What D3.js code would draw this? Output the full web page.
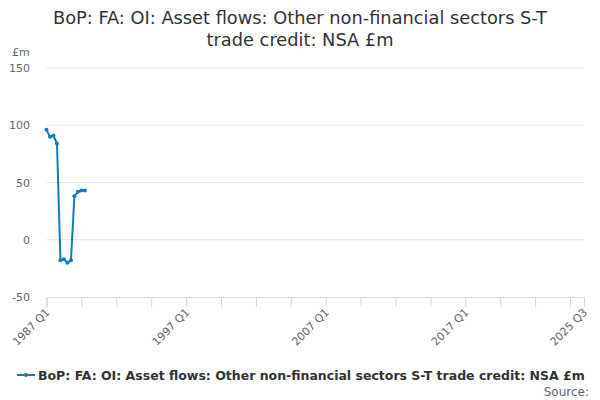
<!DOCTYPE html>
<html><head><meta charset="utf-8">
<script src="https://cdn.jsdelivr.net/npm/d3@7"></script>
<style>body{margin:0;background:#fff;font-family:"DejaVu Sans",sans-serif;}</style>
</head><body><svg id="c" width="600" height="400"></svg>
<script>
const quarters = ["1987 Q1","1987 Q2","1987 Q3","1987 Q4","1988 Q1","1988 Q2","1988 Q3","1988 Q4","1989 Q1","1989 Q2","1989 Q3","1989 Q4"];
const values = [96,90,91,84,-18,-17,-20,-18,38,42,43,43];
const yTicks = [-50,0,50,100,150];
const xLabels = ["1987 Q1","1997 Q1","2007 Q1","2017 Q1","2025 Q3"];
const seriesName = "BoP: FA: OI: Asset flows: Other non-financial sectors S-T trade credit: NSA £m";

function qIndex(s){const [y,q]=s.split(" Q");return (+y-1987)*4+(+q-1);}
const lastIdx = qIndex("2025 Q3");

const svg = d3.select("#c");
const L=46.5, R=584, T=68, B=297;
const x = d3.scaleLinear().domain([0,lastIdx]).range([L,R]);
const y = d3.scaleLinear().domain([-50,150]).range([B,T]);

svg.append("text").attr("x",300).attr("y",24).attr("text-anchor","middle")
  .attr("font-size",17.8).attr("fill","#333").text("BoP: FA: OI: Asset flows: Other non-financial sectors S-T");
svg.append("text").attr("x",300).attr("y",46).attr("text-anchor","middle")
  .attr("font-size",17.8).attr("fill","#333").text("trade credit: NSA £m");

svg.append("text").attr("x",12).attr("y",56).attr("font-size",11).attr("fill","#666").text("£m");

// gridlines
svg.append("g").selectAll("line").data(yTicks.filter(d=>d!==-50)).join("line")
  .attr("x1",L).attr("x2",R).attr("y1",d=>y(d)).attr("y2",d=>y(d))
  .attr("stroke","#e6e6e6").attr("stroke-width",1);
svg.append("g").selectAll("text").data(yTicks).join("text")
  .attr("x",30).attr("y",d=>y(d)+4).attr("text-anchor","end")
  .attr("font-size",11).attr("fill","#666").text(d=>d);

// x axis
const minor = d3.range(0,lastIdx,10).concat([lastIdx]);
const xAxis = d3.axisBottom(x).tickValues(minor).tickSize(10).tickFormat("");
const gx = svg.append("g").attr("transform",`translate(0,${B})`).call(xAxis);
gx.select(".domain").attr("stroke","#ccd6eb");
gx.selectAll(".tick line").attr("stroke","#ccd6eb");
svg.append("g").selectAll("text").data(xLabels).join("text")
  .attr("transform",d=>`translate(${x(qIndex(d))+4},${B+16}) rotate(-45)`)
  .attr("text-anchor","end").attr("font-size",11).attr("fill","#666").text(d=>d);

// line
const color="#0f7cc2";
const pts = quarters.map((q,i)=>({x:qIndex(q),v:values[i]}));
svg.append("path").datum(pts).attr("fill","none").attr("stroke",color).attr("stroke-width",2)
  .attr("d",d3.line().x(d=>x(d.x)).y(d=>y(d.v)));
svg.append("g").selectAll("circle").data(pts).join("circle")
  .attr("cx",d=>x(d.x)).attr("cy",d=>y(d.v)).attr("r",2).attr("fill",color);

// legend
svg.append("line").attr("x1",17).attr("x2",35).attr("y1",375).attr("y2",375).attr("stroke",color).attr("stroke-width",2);
svg.append("circle").attr("cx",26).attr("cy",375).attr("r",2).attr("fill",color);
svg.append("text").attr("x",38).attr("y",380).attr("font-size",12.5).attr("font-weight","bold").attr("fill","#333").text(seriesName);
svg.append("text").attr("x",589).attr("y",396).attr("text-anchor","end").attr("font-size",12).attr("fill","#666").text("Source:");
</script></body></html>
